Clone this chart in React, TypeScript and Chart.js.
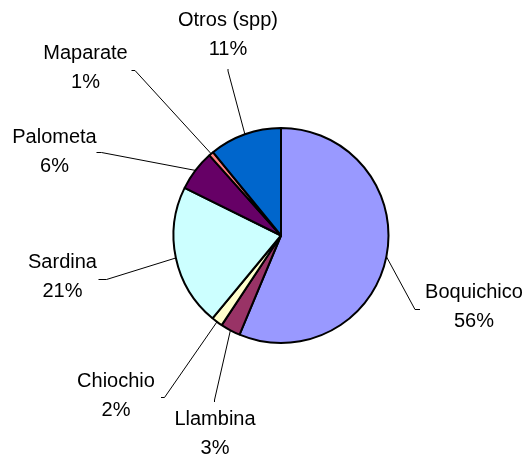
import React, { useEffect, useRef } from "react";
import { Chart, registerables } from "chart.js";

Chart.register(...registerables);

const categories = ["Boquichico", "Llambina", "Chiochio", "Sardina", "Palometa", "Maparate", "Otros (spp)"];
const values = [56.3, 3.0, 1.7, 21.3, 6.1, 0.7, 10.9];
const percentLabels = ["56%", "3%", "2%", "21%", "6%", "1%", "11%"];
const colors = ["#9999FF", "#993366", "#FFFFCC", "#CCFFFF", "#660066", "#FF8080", "#0066CC"];

// label layout: text centre (x, y of first line), and leader elbow points
const labelPos = [
  { x: 474, y: 292, elbow: [[420, 309.5], [415, 309.5]] },
  { x: 215, y: 419, elbow: [[214.5, 402], [214.5, 400]] },
  { x: 116, y: 381, elbow: [[161, 397.5], [164.5, 397.5]] },
  { x: 62.5, y: 262, elbow: [[98.5, 279.5], [106.5, 279.5]] },
  { x: 54.5, y: 137.5, elbow: [[96.5, 152.5], [101.5, 152.5]] },
  { x: 85.5, y: 53.5, elbow: [[131.5, 70.5], [135, 70.5]] },
  { x: 228, y: 20, elbow: [[228, 69], [228, 71]] },
];

const labelPlugin = {
  id: "pieLabels",
  afterDatasetsDraw(chart: any) {
    const ctx = chart.ctx;
    const meta = chart.getDatasetMeta(0);
    ctx.save();
    meta.data.forEach((arc: any, i: number) => {
      const p = arc.getProps(["x", "y", "startAngle", "endAngle", "outerRadius"], true);
      const mid = (p.startAngle + p.endAngle) / 2;
      const ex = p.x + Math.cos(mid) * p.outerRadius;
      const ey = p.y + Math.sin(mid) * p.outerRadius;
      const lp = labelPos[i];
      ctx.beginPath();
      ctx.strokeStyle = "#000";
      ctx.lineWidth = 1;
      ctx.moveTo(lp.elbow[0][0], lp.elbow[0][1]);
      ctx.lineTo(lp.elbow[1][0], lp.elbow[1][1]);
      ctx.lineTo(ex, ey);
      ctx.stroke();
      ctx.fillStyle = "#000";
      ctx.font = '20px "Liberation Sans", Arial, sans-serif';
      ctx.textAlign = "center";
      ctx.textBaseline = "middle";
      ctx.fillText(categories[i], lp.x, lp.y);
      ctx.fillText(percentLabels[i], lp.x, lp.y + 29);
    });
    ctx.restore();
  },
};

export default function App() {
  const ref = useRef<HTMLCanvasElement>(null);
  useEffect(() => {
    if (!ref.current) return;
    const chart = new Chart(ref.current, {
      type: "pie",
      data: {
        labels: categories,
        datasets: [
          {
            data: values,
            backgroundColor: colors,
            borderColor: "#000",
            borderWidth: 2,
          },
        ],
      },
      options: {
        animation: false,
        responsive: false,
        radius: 107.5,
        layout: { padding: { left: 40, right: 6, top: 20, bottom: 5 } },
        plugins: { legend: { display: false }, tooltip: { enabled: false } },
      } as any,
      plugins: [labelPlugin],
    });
    return () => chart.destroy();
  }, []);
  return (
    <div style={{ position: "absolute", left: 0, top: 0, width: 528, height: 456, background: "#fff" }}>
      <canvas ref={ref} width={528} height={456} style={{ width: 528, height: 456 }} />
    </div>
  );
}
